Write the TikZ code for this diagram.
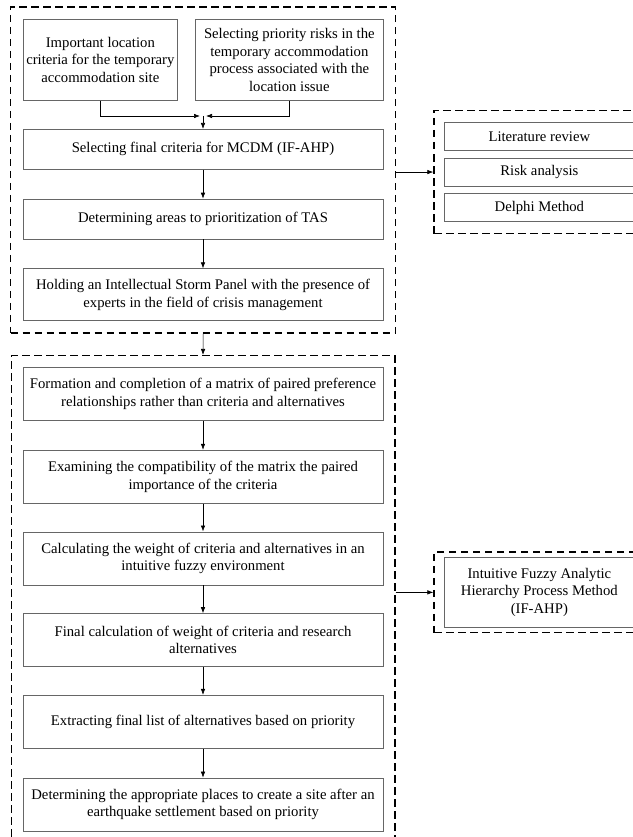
\documentclass[tikz,border=0pt]{standalone}
\usepackage{fontspec}
\setmainfont{Liberation Serif}
\usetikzlibrary{positioning,fit,arrows.meta}
\tikzstyle{process} = [rectangle, minimum width=360pt, minimum height=53pt, align=center, draw=black!60, line width=0.7pt, inner sep=2pt]
\tikzstyle{arrow} = [line width=0.6pt,->,>={Latex[length=6pt,width=4.5pt]}]
\tikzset{
 group/.style
  = {rectangle, draw, line width=1.3pt, dash pattern=on 7.5pt off 4.5pt, inner sep=12pt},
 method/.style
  = {rectangle, draw=black!60, line width=0.7pt, minimum width=190pt, minimum height=28pt,
     align=center, inner sep=2pt, anchor=north west},
}

\begin{document}
\begin{tikzpicture}[x=1pt, y=-1pt, font=\fontsize{14.7}{17.5}\selectfont]
\useasboundingbox (0,0) rectangle (632,837);
% first stage
\node (imp) [process, minimum width=154pt, minimum height=81pt, anchor=north west] at (23,19) {Important location\\criteria for the temporary\\accommodation site};
\node (prisk) [process, minimum width=188pt, minimum height=81pt, anchor=north west] at (195,19) {Selecting priority risks in the\\temporary accommodation\\process associated with the\\location issue};
\node (crit) [process, minimum height=40pt, anchor=north] at (203,129) {Selecting final criteria for MCDM (IF-AHP)};
\node (areas) [process, minimum height=40pt, below=29pt of crit] {Determining areas to prioritization of TAS};
\node (panel) [process, minimum height=52pt, below=29pt of areas] {Holding an Intellectual Storm Panel with the presence of\\experts in the field of crisis management};
\coordinate [above=13pt of crit] (join);
\node (top) [group, fit=(imp)(prisk)(panel)] {};
% second stage
\node (form) [process, below=46pt of panel] {Formation and completion of a matrix of paired preference\\relationships rather than criteria and alternatives};
\node (exam) [process, below=29pt of form] {Examining the compatibility of the matrix the paired\\importance of the criteria};
\node (calc) [process, below=28pt of exam] {Calculating the weight of criteria and alternatives in an\\intuitive fuzzy environment};
\node (final) [process, below=28pt of calc] {Final calculation of weight of criteria and research\\alternatives};
\node (list) [process, below=28pt of final] {Extracting final list of alternatives based on priority};
\node (places) [process, below=29pt of list] {Determining the appropriate places to create a site after an\\earthquake settlement based on priority};
\node (bot) [group, fit=(form)(places), inner sep=11.5pt] {};
% methods
\node (lit) [method] at (444,122) {Literature review};
\node (ra) [method, below=7pt of lit] {Risk analysis};
\node (delphi) [method, below=7pt of ra] {Delphi Method};
\node (rtop) [group, fit=(lit)(delphi), inner xsep=10pt, inner ysep=11.5pt] {};
\node (ahp) [method, minimum height=70pt] at (444,557) {Intuitive Fuzzy Analytic\\Hierarchy Process Method\\(IF-AHP)};
\node (rbot) [group, fit=(ahp), inner xsep=10pt, inner ysep=5pt] {};
% connectors
\draw [arrow] (imp) |- ([xshift=-3pt]join);
\draw [arrow] (prisk) |- ([xshift=3pt]join);
\draw [arrow] (join) -- (crit);
\draw [arrow] (crit) -- (areas);
\draw [arrow] (areas) -- (panel);
\draw [arrow] (top.south) -- (bot.north);
\draw [arrow] (form) -- (exam);
\draw [arrow] (exam) -- (calc);
\draw [arrow] (calc) -- (final);
\draw [arrow] (final) -- (list);
\draw [arrow] (list) -- (places);
\draw [arrow] (top.east |- rtop.west) -- (rtop.west);
\draw [arrow] (bot.east |- rbot.west) -- (rbot.west);
\end{tikzpicture}
\end{document}
